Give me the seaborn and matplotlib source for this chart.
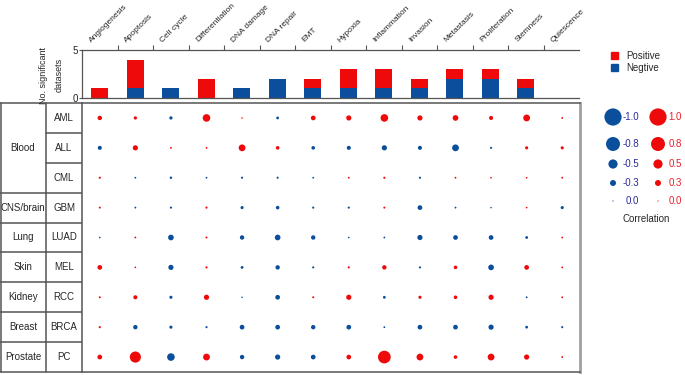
import itertools
import pandas as pd
import matplotlib
matplotlib.use('Agg')
import matplotlib.pyplot as plt
from matplotlib.patches import Patch
import seaborn as sns

# dados
processes = ['Angiogenesis', 'Apoptosis', 'Cell cycle', 'Differentiation', 'DNA damage',
             'DNA repair', 'EMT', 'Hypoxia', 'Inflammation', 'Invasion', 'Metastasis',
             'Proliferation', 'Stemness', 'Quiescence']
tissues = ['Blood', 'Blood', 'Blood', 'CNS/brain', 'Lung', 'Skin', 'Kidney', 'Breast', 'Prostate']
cancers = ['AML', 'ALL', 'CML', 'GBM', 'LUAD', 'MEL', 'RCC', 'BRCA', 'PC']

n_positive = [1, 3, 0, 2, 0, 0, 1, 2, 2, 1, 1, 1, 1, 0]
n_negative = [0, 1, 1, 0, 1, 2, 1, 1, 1, 1, 2, 2, 1, 0]

corr_aml = [0.20, 0.13, -0.13, 0.40, 0.02, -0.10, 0.22, 0.25, 0.40, 0.25, 0.28, 0.18, 0.35, 0.04]
corr_all = [-0.18, 0.25, 0.04, 0.04, 0.35, 0.15, -0.15, -0.18, -0.25, -0.18, -0.35, -0.06, 0.12, 0.12]
corr_cml = [0.06, -0.04, -0.08, -0.04, -0.06, -0.06, -0.04, 0.04, 0.06, -0.06, 0.04, 0.03, 0.03, 0.04]
corr_gbm = [0.05, -0.04, -0.06, 0.06, -0.12, -0.15, -0.06, -0.06, 0.05, -0.22, -0.04, -0.02, 0.03, -0.12]
corr_luad = [-0.03, 0.04, -0.28, 0.05, -0.20, -0.28, -0.20, -0.03, -0.04, -0.25, -0.22, -0.22, -0.10, 0.04]
corr_mel = [0.22, 0.03, -0.25, 0.06, -0.10, -0.20, -0.06, 0.06, 0.20, -0.06, 0.15, -0.28, 0.22, 0.04]
corr_rcc = [0.05, 0.18, -0.12, 0.25, -0.02, -0.22, 0.05, 0.25, -0.10, 0.12, 0.15, 0.25, -0.04, 0.04]
corr_brca = [0.06, -0.20, -0.12, -0.06, -0.22, -0.22, -0.20, -0.22, -0.04, -0.22, -0.22, -0.25, -0.10, -0.06]
corr_pc = [0.22, 0.62, -0.40, 0.35, -0.20, -0.25, -0.22, 0.22, 0.72, 0.35, 0.15, 0.35, 0.25, 0.04]
corr_rows = [corr_aml, corr_all, corr_cml, corr_gbm, corr_luad, corr_mel, corr_rcc, corr_brca, corr_pc]

legend_values = [1.0, 0.8, 0.5, 0.3, 0.0]

# estilo
RED = '#ee0a0a'
BLUE = '#0b4f9c'
LINE = '#555555'
W, H = 685, 375

sns.set_theme(style='white')
plt.rcParams['font.family'] = ['Liberation Sans', 'DejaVu Sans']
plt.rcParams['font.size'] = 7


def area(r):
    # diâmetro em pixels ~ 1.2 + 16|r|, convertido para pontos
    d = (1.2 + 16 * abs(r)) * 0.72
    return d * d


def px_axes(fig, x0, y0, x1, y1):
    return fig.add_axes([x0 / W, 1 - y1 / H, (x1 - x0) / W, (y1 - y0) / H])


fig = plt.figure(figsize=(W / 100, H / 100), dpi=100)

# camada de fundo (legenda e textos)
ax_over = px_axes(fig, 0, 0, W, H)
ax_over.set_xlim(0, W)
ax_over.set_ylim(H, 0)
ax_over.axis('off')
ax_over.patch.set_alpha(0)

# gráfico de barras empilhadas
ax_bar = px_axes(fig, 82, 50, 579, 98)
df_bar = pd.DataFrame({'process': processes, 'pos': n_positive, 'neg': n_negative})
df_bar['total'] = df_bar['pos'] + df_bar['neg']
sns.barplot(data=df_bar, x='process', y='total', color=RED, width=0.48,
            saturation=1, linewidth=0, ax=ax_bar)
sns.barplot(data=df_bar, x='process', y='neg', color=BLUE, width=0.48,
            saturation=1, linewidth=0, ax=ax_bar)
ax_bar.set_xlim(-0.5, len(processes) - 0.5)
ax_bar.set_ylim(0, 5)
ax_bar.set_yticks([0, 5])
ax_bar.set_xlabel('')
ax_bar.set_ylabel('')
ax_bar.set_xticks([])
ax_bar.set_xticks([i + 0.5 for i in range(len(processes) - 1)], minor=True)
ax_bar.tick_params(axis='x', which='minor', top=True, bottom=False, direction='out',
                   length=3.5, width=0.8, color=LINE)
ax_bar.tick_params(axis='y', left=True, length=2, width=0.8, color=LINE, pad=1, labelsize=7)
for s in ['top', 'left', 'bottom']:
    ax_bar.spines[s].set_color(LINE)
    ax_bar.spines[s].set_linewidth(0.9)
ax_bar.spines['right'].set_visible(False)
ax_bar.patch.set_alpha(0)

for i, name in enumerate(processes):
    ax_bar.annotate(name, xy=(i, 1), xycoords=('data', 'axes fraction'),
                    xytext=(-5, 4.5), textcoords='offset points',
                    rotation=45, ha='left', va='bottom', rotation_mode='anchor', fontsize=6)

fig.text(51 / W, 1 - 75 / H, 'No. significant\ndatasets', rotation=90,
         ha='center', va='center', fontsize=6.5, multialignment='center', linespacing=1.9)

# gráfico de bolhas
ax_dot = px_axes(fig, 82, 103, 580, 372)
rows = []
for yi, vals in enumerate(corr_rows):
    for xi, r in enumerate(vals):
        rows.append({'x': xi, 'y': yi, 'corr': r, 'area': area(r),
                     'sign': 'pos' if r >= 0 else 'neg'})
df_dot = pd.DataFrame(rows)
sns.scatterplot(data=df_dot, x='x', y='y', size='area', sizes=(0, 400), size_norm=(0, 400),
                hue='sign', palette={'pos': RED, 'neg': BLUE}, linewidth=0,
                legend=False, ax=ax_dot)
ax_dot.set_xlim(-0.5, len(processes) - 0.5)
ax_dot.set_ylim(len(cancers) - 0.5, -0.5)
ax_dot.set_xticks([])
ax_dot.set_yticks([])
ax_dot.set_xlabel('')
ax_dot.set_ylabel('')
ax_dot.spines['left'].set_visible(False)
for s in ['top', 'bottom']:
    ax_dot.spines[s].set_color(LINE)
    ax_dot.spines[s].set_linewidth(1.1)
ax_dot.spines['right'].set_color('#a0a0a0')
ax_dot.spines['right'].set_linewidth(2)

# tabela de rótulos
ax_tab = px_axes(fig, 0, 103, 82, 372)
ax_tab.set_xlim(0, 82)
ax_tab.set_ylim(len(cancers), 0)
ax_tab.axis('off')
lw = 1.1
ax_tab.plot([0.6, 0.6], [0, len(cancers)], color=LINE, lw=lw, clip_on=False)
ax_tab.plot([46, 46], [0, len(cancers)], color=LINE, lw=lw, clip_on=False)
ax_tab.plot([81.5, 81.5], [0, len(cancers)], color=LINE, lw=lw, clip_on=False)
ax_tab.plot([0, 82], [0, 0], color=LINE, lw=lw, clip_on=False)
ax_tab.plot([0, 82], [len(cancers), len(cancers)], color=LINE, lw=lw, clip_on=False)
for i, c in enumerate(cancers):
    ax_tab.text(64, i + 0.5, c, ha='center', va='center', fontsize=7)
    if i > 0:
        ax_tab.plot([46, 82], [i, i], color=LINE, lw=lw)
start = 0
for t, grp in itertools.groupby(tissues):
    n = len(list(grp))
    ax_tab.text(23, start + n / 2, t, ha='center', va='center', fontsize=7)
    if start > 0:
        ax_tab.plot([0, 46], [start, start], color=LINE, lw=lw)
    start += n

# legenda das cores
fig.legend(handles=[Patch(color=RED, label='Positive'), Patch(color=BLUE, label='Negtive')],
           loc='upper left', bbox_to_anchor=(606 / W, 1 - 46 / H), frameon=False,
           fontsize=7, handlelength=0.75, handleheight=0.75, handletextpad=0.8,
           labelspacing=0.2, borderpad=0)

# legenda de tamanhos
leg_y = [117, 144, 164, 183, 201]
df_leg = pd.DataFrame({'v': legend_values, 'y': leg_y})
df_leg['area'] = df_leg['v'].apply(area)
df_leg['xb'] = 613
df_leg['xr'] = 658
sns.scatterplot(data=df_leg, x='xb', y='y', size='area', sizes=(0, 400), size_norm=(0, 400),
                color=BLUE, linewidth=0, legend=False, ax=ax_over)
sns.scatterplot(data=df_leg, x='xr', y='y', size='area', sizes=(0, 400), size_norm=(0, 400),
                color=RED, linewidth=0, legend=False, ax=ax_over)
for v, y in zip(legend_values, leg_y):
    ax_over.text(639, y, f'{-v:.1f}' if v > 0 else '0.0', ha='right', va='center',
                 fontsize=7, color='#2b2b9b')
    ax_over.text(682, y, f'{v:.1f}', ha='right', va='center', fontsize=7, color='#e8202a')
ax_over.text(646, 219, 'Correlation', ha='center', va='center', fontsize=7)
ax_over.set_xlabel('')
ax_over.set_ylabel('')

fig.savefig('out.png', dpi=100)
